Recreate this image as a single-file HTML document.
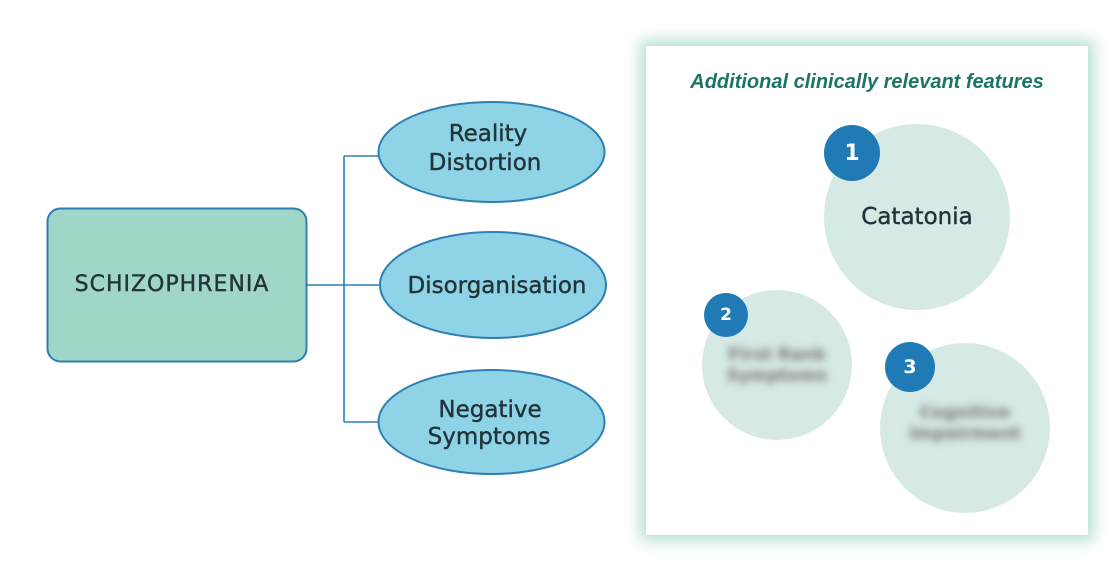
<!DOCTYPE html>
<html><head><meta charset="utf-8"><style>
html,body{margin:0;padding:0;background:#fff;}
body{width:1120px;height:582px;position:relative;overflow:hidden;font-family:"DejaVu Sans","Liberation Sans",sans-serif;}
.abs{position:absolute;}
.panel{left:646px;top:46px;width:442px;height:489px;background:#fff;box-shadow:0 0 14px 6px rgba(120,200,175,0.55);}
.title{left:646px;top:71px;width:442px;text-align:center;font-family:"Liberation Sans",sans-serif;font-style:italic;font-weight:bold;font-size:20px;color:#1b7566;}
.c{border-radius:50%;background:#d7e9e5;}
.b{border-radius:50%;background:#1f7ab5;color:#fff;font-weight:bold;display:flex;align-items:center;justify-content:center;font-family:"DejaVu Sans",sans-serif;}
.blur{filter:blur(4px);color:#777;text-align:center;font-size:17px;line-height:21px;font-weight:bold;}
</style></head><body>
<svg class="abs" style="left:0;top:0" width="1120" height="582">
  <rect x="47.5" y="208.5" width="259" height="153" rx="13" fill="#9fd6c7" stroke="#2f7fb5" stroke-width="2"/>
  <path d="M306 285 H380 M344 156 V422 M344 156 H380 M344 422 H380" stroke="#2f7fb5" stroke-width="1.6" fill="none"/>
  <ellipse cx="491.5" cy="152" rx="113" ry="50" fill="#8fd4e6" stroke="#2f7fb5" stroke-width="2"/>
  <ellipse cx="493" cy="285" rx="113" ry="53" fill="#8fd4e6" stroke="#2f7fb5" stroke-width="2"/>
  <ellipse cx="491.5" cy="422" rx="113" ry="52" fill="#8fd4e6" stroke="#2f7fb5" stroke-width="2"/>
  <g font-family="DejaVu Sans, Liberation Sans, sans-serif" fill="#22343a" font-size="23" text-anchor="middle" stroke="#22343a" stroke-width="0.4">
    <text x="172" y="291" font-size="22" letter-spacing="1">SCHIZOPHRENIA</text>
    <text x="488" y="141">Reality</text>
    <text x="485" y="170">Distortion</text>
    <text x="497" y="293">Disorganisation</text>
    <text x="490" y="417">Negative</text>
    <text x="489" y="444">Symptoms</text>
  </g>
</svg>
<div class="abs panel"></div>
<div class="abs title">Additional clinically relevant features</div>
<div class="abs c" style="left:824px;top:124px;width:186px;height:186px;"></div>
<div class="abs" style="left:824px;top:204px;width:186px;text-align:center;font-size:23px;color:#22343a;-webkit-text-stroke:0.4px #22343a;">Catatonia</div>
<div class="abs b" style="left:824px;top:125px;width:56px;height:56px;font-size:22px;">1</div>
<div class="abs c" style="left:702px;top:290px;width:150px;height:150px;"></div>
<div class="abs blur" style="left:702px;top:345px;width:150px;">First Rank<br>Symptoms</div>
<div class="abs b" style="left:704px;top:293px;width:44px;height:44px;font-size:17px;">2</div>
<div class="abs c" style="left:880px;top:343px;width:170px;height:170px;"></div>
<div class="abs blur" style="left:880px;top:403px;width:170px;">Cognitive<br>Impairment</div>
<div class="abs b" style="left:885px;top:342px;width:50px;height:50px;font-size:19px;">3</div>
</body></html>
